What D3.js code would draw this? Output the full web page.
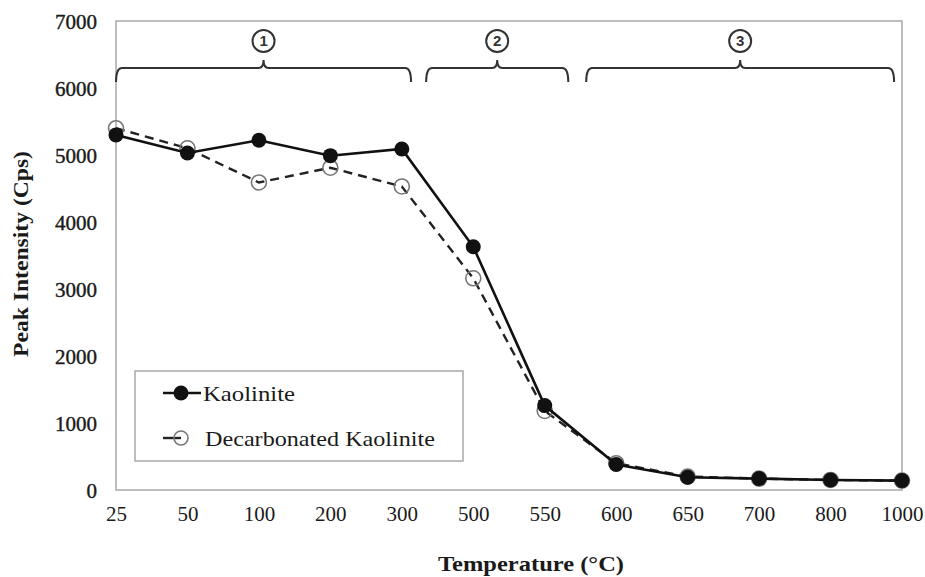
<!DOCTYPE html>
<html>
<head>
<meta charset="utf-8">
<script src="https://cdn.jsdelivr.net/npm/d3@7/dist/d3.min.js"></script>
<style>
  html, body { margin: 0; padding: 0; background: #fff; }
  svg { display: block; }
  .serif { font-family: "Liberation Serif", "Times New Roman", "DejaVu Serif", serif; }
</style>
</head>
<body>
<svg id="chart" width="925" height="577"></svg>
<script>
// Heating temperatures (categorical axis)
const temperatures = ["25", "50", "100", "200", "300", "500", "550", "600", "650", "700", "800", "1000"];
// Peak intensity (Cps)
const kaolinite = [5300, 5030, 5220, 4990, 5090, 3630, 1260, 380, 190, 170, 150, 140];
const decarbonated = [5400, 5100, 4590, 4810, 4530, 3160, 1180, 400, 200, 170, 150, 140];
const yTicks = [0, 1000, 2000, 3000, 4000, 5000, 6000, 7000];
// Temperature stages marked with braces
const stages = [
  { from: "25", to: "300", label: "1" },
  { from: "500", to: "550", label: "2" },
  { from: "600", to: "1000", label: "3" }
];

const svg = d3.select("#chart");
const plotLeft = 116, plotRight = 902, plotTop = 21, plotBottom = 490;

const x = d3.scalePoint().domain(temperatures).range([plotLeft, plotRight]).padding(0);
const y = d3.scaleLinear().domain([0, 7000]).range([plotBottom, plotTop]);

// Plot frame
svg.append("rect")
  .attr("x", plotLeft).attr("y", plotTop)
  .attr("width", plotRight - plotLeft).attr("height", plotBottom - plotTop)
  .attr("fill", "none").attr("stroke", "#a8a8a8").attr("stroke-width", 1.5);

// Axes (labels only, no tick marks)
const yAxis = svg.append("g").attr("transform", `translate(${plotLeft},0)`)
  .call(d3.axisLeft(y).tickValues(yTicks).tickSize(0).tickPadding(19).tickFormat(d3.format("d")));
yAxis.select(".domain").remove();
yAxis.attr("font-family", null).attr("font-size", null);
yAxis.selectAll("text")
  .attr("class", "serif").attr("font-size", 21).attr("fill", "#1a1a1a")
  .attr("stroke", "#1a1a1a").attr("stroke-width", 0.4)
  .attr("dy", "0.35em");

const xAxis = svg.append("g").attr("transform", `translate(0,${plotBottom})`)
  .call(d3.axisBottom(x).tickSize(0).tickPadding(16));
xAxis.select(".domain").remove();
xAxis.attr("font-family", null).attr("font-size", null);
xAxis.selectAll("text")
  .attr("class", "serif").attr("font-size", 21).attr("fill", "#1a1a1a");

// Axis titles
svg.append("text").attr("class", "serif")
  .attr("x", 531).attr("y", 571)
  .attr("text-anchor", "middle")
  .attr("font-size", 21).attr("font-weight", "bold").attr("fill", "#1a1a1a")
  .attr("textLength", 186).attr("lengthAdjust", "spacingAndGlyphs")
  .text("Temperature (°C)");

svg.append("text").attr("class", "serif")
  .attr("transform", "translate(28,254) rotate(-90)")
  .attr("text-anchor", "middle")
  .attr("font-size", 21).attr("font-weight", "bold").attr("fill", "#1a1a1a")
  .attr("textLength", 206).attr("lengthAdjust", "spacingAndGlyphs")
  .text("Peak Intensity (Cps)");

// Series
const line = d3.line().x((d, i) => x(temperatures[i])).y(d => y(d));

svg.append("path").datum(decarbonated)
  .attr("d", line).attr("fill", "none")
  .attr("stroke", "#222").attr("stroke-width", 2.4).attr("stroke-dasharray", "9,6");
svg.append("g").selectAll("circle").data(decarbonated).join("circle")
  .attr("cx", (d, i) => x(temperatures[i])).attr("cy", d => y(d)).attr("r", 7.5)
  .attr("fill", "none").attr("stroke", "#777").attr("stroke-width", 1.6);

svg.append("path").datum(kaolinite)
  .attr("d", line).attr("fill", "none")
  .attr("stroke", "#111").attr("stroke-width", 2.6);
svg.append("g").selectAll("circle").data(kaolinite).join("circle")
  .attr("cx", (d, i) => x(temperatures[i])).attr("cy", d => y(d)).attr("r", 7.5)
  .attr("fill", "#111");

// Stage braces with circled numbers; ends are offset from the category positions
const braceY = 68, braceEnd = 82, peakY = 60;
const step = x.step();
const braceOffsets = { "25": 0, "300": 0.13, "500": -0.66, "550": 0.33, "600": -0.42, "1000": -0.11 };
stages.forEach(s => {
  const x0 = x(s.from) + braceOffsets[s.from] * step;
  const x1 = x(s.to) + braceOffsets[s.to] * step;
  const mid = (x0 + x1) / 2;
  const p = d3.path();
  p.moveTo(x0, braceEnd);
  p.quadraticCurveTo(x0, braceY, x0 + 6, braceY);
  p.lineTo(mid - 5, braceY);
  p.quadraticCurveTo(mid, braceY, mid, peakY);
  p.quadraticCurveTo(mid, braceY, mid + 5, braceY);
  p.lineTo(x1 - 6, braceY);
  p.quadraticCurveTo(x1, braceY, x1, braceEnd);
  svg.append("path").attr("d", p.toString())
    .attr("fill", "none").attr("stroke", "#333").attr("stroke-width", 2);
  svg.append("circle").attr("cx", mid).attr("cy", 41).attr("r", 11)
    .attr("fill", "#fff").attr("stroke", "#333").attr("stroke-width", 2);
  svg.append("text").attr("x", mid).attr("y", 41).attr("dy", "0.36em")
    .attr("text-anchor", "middle")
    .attr("font-family", "Liberation Sans, Arial, sans-serif").attr("font-weight", "bold")
    .attr("font-size", 15).attr("fill", "#333")
    .text(s.label);
});

// Legend
const legend = svg.append("g");
legend.append("rect").attr("x", 135).attr("y", 371).attr("width", 328).attr("height", 90)
  .attr("fill", "#fff").attr("stroke", "#a8a8a8").attr("stroke-width", 1.5);

const l1 = 393, l2 = 438;
legend.append("line").attr("x1", 163).attr("x2", 201).attr("y1", l1).attr("y2", l1)
  .attr("stroke", "#111").attr("stroke-width", 2.6);
legend.append("circle").attr("cx", 181).attr("cy", l1).attr("r", 7.5).attr("fill", "#111");
legend.append("text").attr("class", "serif").attr("x", 203).attr("y", l1).attr("dy", "0.35em")
  .attr("font-size", 22).attr("fill", "#1a1a1a")
  .attr("textLength", 92).attr("lengthAdjust", "spacingAndGlyphs")
  .text("Kaolinite");

legend.append("line").attr("x1", 163).attr("x2", 181).attr("y1", l2).attr("y2", l2)
  .attr("stroke", "#222").attr("stroke-width", 2.4);
legend.append("circle").attr("cx", 181).attr("cy", l2).attr("r", 7)
  .attr("fill", "none").attr("stroke", "#777").attr("stroke-width", 1.6);
legend.append("text").attr("class", "serif").attr("x", 205).attr("y", l2).attr("dy", "0.35em")
  .attr("font-size", 22).attr("fill", "#1a1a1a")
  .attr("textLength", 230).attr("lengthAdjust", "spacingAndGlyphs")
  .text("Decarbonated Kaolinite");
</script>
</body>
</html>
